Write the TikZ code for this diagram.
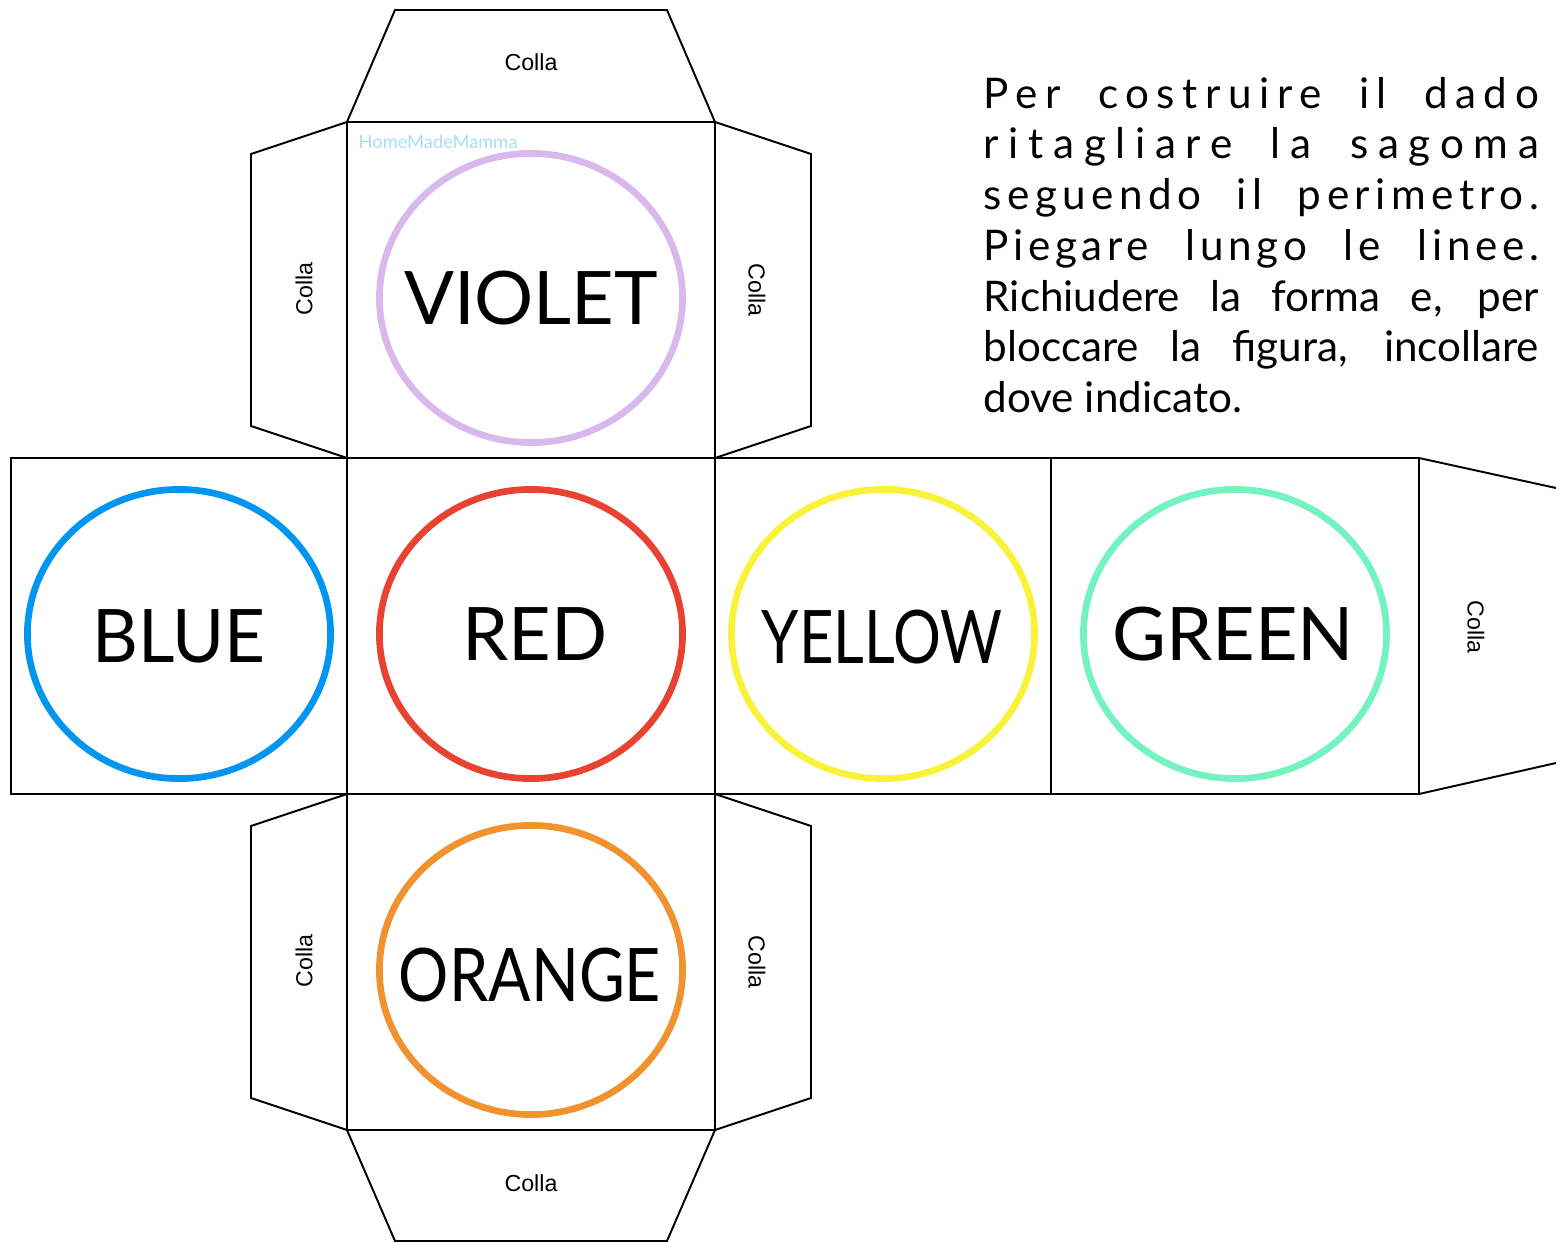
\documentclass[tikz,border=0pt]{standalone}
\usepackage{fontspec}
\setmainfont{Lato}
\newfontfamily\collafont{Liberation Sans}
\usepackage{tikz}
\usetikzlibrary{shapes.geometric}
\definecolor{cviolet}{HTML}{D9B8EE}
\definecolor{cblue}{HTML}{0096F0}
\definecolor{cred}{HTML}{E84332}
\definecolor{cyellow}{HTML}{F9F23A}
\definecolor{cgreen}{HTML}{74F2C0}
\definecolor{corange}{HTML}{F0922E}
\definecolor{cmark}{HTML}{A6DFEE}
\tikzset{
        cut/.style={draw=black, line width=0.55pt}, % outline of the shape
        face/.style={ellipse, draw=#1, line width=1.9pt, minimum width=3.03cm,
                     minimum height=2.89cm, inner sep=0pt},
        facename/.style={inner sep=0pt, font=\fontsize{21}{25}\selectfont},
        colla/.style={font=\collafont\fontsize{6.6}{8}\selectfont, inner sep=0pt},
        textline/.style={anchor=base west, inner sep=0pt, font=\fontsize{12}{14}\selectfont},
}

\begin{document}
\begin{tikzpicture}[x=0.01cm, y=-0.01cm]
\useasboundingbox (0,0) rectangle (1556,1242);
% faces
\draw[cut] (347,122) rectangle (715,458);
\draw[cut] (11,458) rectangle (347,794);
\draw[cut] (347,458) rectangle (715,794);
\draw[cut] (715,458) rectangle (1051,794);
\draw[cut] (1051,458) rectangle (1419,794);
\draw[cut] (347,794) rectangle (715,1130);
% flaps
\draw[cut] (347,122) -- (395,10) -- (667,10) -- (715,122);
\draw[cut] (347,1130) -- (395,1241) -- (667,1241) -- (715,1130);
\draw[cut] (347,122) -- (251,154) -- (251,426) -- (347,458);
\draw[cut] (715,122) -- (811,154) -- (811,426) -- (715,458);
\draw[cut] (347,794) -- (251,826) -- (251,1098) -- (347,1130);
\draw[cut] (715,794) -- (811,826) -- (811,1098) -- (715,1130);
\draw[cut] (1419,458) -- (1556,488);
\draw[cut] (1419,794) -- (1556,763);
\node[colla] (collatop) at (531,62) {Colla};
\node[colla] (collabot) at (531,1183) {Colla};
\node[colla, rotate=90] (collaul) at (304,289) {Colla};
\node[colla, rotate=-90] (collaur) at (757,290) {Colla};
\node[colla, rotate=90] (collall) at (304,961) {Colla};
\node[colla, rotate=-90] (collalr) at (757,962) {Colla};
\node[colla, rotate=-90] (collaend) at (1476,627) {Colla};
% colour circles
\node[face=cviolet] (violet) at (531,298) {};
\node[face=cblue] (blue) at (179,634) {};
\node[face=cred] (red) at (531,634) {};
\node[face=cyellow] (yellow) at (883,634) {};
\node[face=cgreen] (green) at (1235,634) {};
\node[face=corange] (orange) at (531,970) {};
\node[facename] (violettext) at (violet) {VIOLET};
\node[facename, xscale=0.96, transform shape] (bluetext) at (179,636) {BLUE};
\node[facename] (redtext) at (535,634) {RED};
\node[facename, xscale=0.81, transform shape] (yellowtext) at (882,637) {YELLOW};
\node[facename] (greentext) at (1233,634) {GREEN};
\node[facename, xscale=0.85, transform shape] (orangetext) at (530,975) {ORANGE};
\node[anchor=base west, inner sep=0pt, text=cmark, font=\fontsize{5.2}{6}\selectfont] (mark) at (358,148) {HomeMadeMamma};
% instructions
\node[textline] (l1) at (983,108) {\addfontfeature{LetterSpace=18}\makebox[5.55cm][s]{Per costruire il dado}};
\node[textline] (l2) at (983,158) {\addfontfeature{LetterSpace=23}\makebox[5.55cm][s]{ritagliare la sagoma}};
\node[textline] (l3) at (983,209) {\addfontfeature{LetterSpace=13}\makebox[5.55cm][s]{seguendo il perimetro.}};
\node[textline] (l4) at (983,260) {\addfontfeature{LetterSpace=11}\makebox[5.55cm][s]{Piegare lungo le linee.}};
\node[textline] (l5) at (983,311) {\makebox[5.55cm][s]{Richiudere la forma e, per}};
\node[textline] (l6) at (983,361) {\makebox[5.55cm][s]{bloccare la figura, incollare}};
\node[textline] (l7) at (983,412) {dove indicato.};

\end{tikzpicture}
\end{document}
